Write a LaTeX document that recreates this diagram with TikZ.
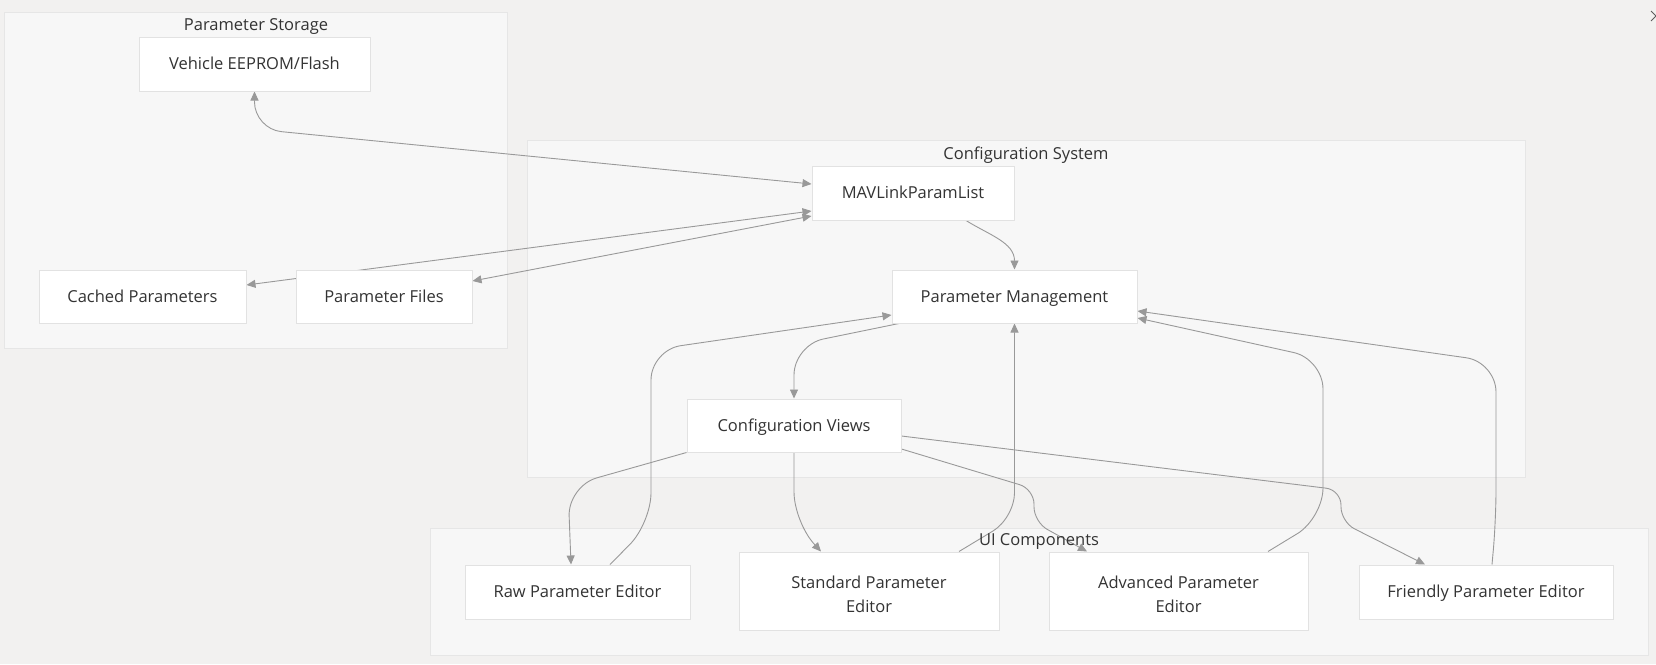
\documentclass[tikz,border=0pt]{standalone}
\usepackage{fontspec}
\setmainfont{Open Sans}
\usetikzlibrary{arrows.meta}
\pgfdeclarelayer{bg}
\pgfdeclarelayer{edges}
\pgfsetlayers{bg,edges,main}
\definecolor{pagebg}{HTML}{F2F1F0}
\definecolor{clusterfill}{HTML}{F7F7F7}
\definecolor{clusterline}{HTML}{E6E6E6}
\definecolor{boxline}{HTML}{E2E2E2}
\definecolor{edgec}{HTML}{999999}
\definecolor{textc}{HTML}{333333}
\begin{document}
\begin{tikzpicture}[x=1pt,y=-1pt,
  box/.style={draw=boxline, fill=white, line width=1pt, text=textc, inner sep=0pt, align=center,
    text height=15pt, text depth=3.2pt, font=\fontsize{16.5}{24}\selectfont},
  twoline/.style={text height=46pt},
  cluster/.style={draw=clusterline, fill=clusterfill, line width=1pt},
  ctitle/.style={text=textc, inner sep=0pt, text height=15pt, text depth=3.2pt,
    font=\fontsize{16.5}{18}\selectfont},
  edge/.style={draw=edgec, line width=0.9pt},
  >={Triangle[length=9pt,width=8pt]}]
\useasboundingbox (0,0) rectangle (1656,664);

% background and clusters
\begin{pgfonlayer}{bg}
\fill[pagebg] (0,0) rectangle (1656,664);
\draw[cluster] (4,12) rectangle (507,348);
\draw[cluster] (527,140) rectangle (1525,477);
\draw[cluster] (430,528) rectangle (1648,655);
\end{pgfonlayer}
\draw[color=textc!80, line width=1pt] (1651,11) -- (1656,16) -- (1651,21);
\node[ctitle] (tstore) at (256,25) {Parameter Storage};
\node[ctitle] (tconf) at (1026,154) {Configuration System};
\node[ctitle] (tui) at (1039,540) {UI Components};

% nodes
\node[box, minimum width=231pt, minimum height=54pt] (veh) at (254.5,64) {Vehicle EEPROM/Flash};
\node[box, minimum width=207pt, minimum height=53pt] (cached) at (142.5,296.5) {Cached Parameters};
\node[box, minimum width=176pt, minimum height=53pt] (files) at (384,296.5) {Parameter Files};
\node[box, minimum width=202pt, minimum height=54pt] (mav) at (913,193) {MAVLinkParamList};
\node[box, minimum width=245pt, minimum height=53pt] (pm) at (1014.5,296.5) {Parameter Management};
\node[box, minimum width=214pt, minimum height=53pt] (cv) at (794,425.5) {Configuration Views};
\node[box, minimum width=225pt, minimum height=54pt] (raw) at (577.5,592) {Raw Parameter Editor};
\node[box, twoline, minimum width=260pt, minimum height=78pt] (std) at (869,591) {Standard Parameter\\Editor};
\node[box, twoline, minimum width=259pt, minimum height=78pt] (adv) at (1178.5,591) {Advanced Parameter\\Editor};
\node[box, minimum width=254pt, minimum height=54pt] (fri) at (1486,592) {Friendly Parameter Editor};

% edges
\begin{pgfonlayer}{edges}
\draw[edge,<->,rounded corners=27pt] (veh.south) -- (254.5,129) -- ([yshift=9pt]mav.west);
\draw[edge,<->] ([yshift=-23pt]mav.west) -- ([yshift=15.5pt]files.east);
\draw[edge,<->] ([yshift=-18pt]mav.west) -- ([yshift=11.5pt]cached.east);
\draw[edge,->] ([xshift=53pt]mav.south) to[out=-32,in=90] (pm.north);
\draw[edge,->,rounded corners=30pt] ([xshift=-115.5pt]pm.south) -- (794,345) -- (cv.north);
\draw[edge,->,rounded corners=30pt] ([xshift=32.5pt]raw.north) -- (651,523) -- (651,350) -- ([yshift=-18.5pt]pm.west);
\draw[edge,->,rounded corners=25pt] ([xshift=90pt]std.north) -- (1014.5,518) -- (pm.south);
\draw[edge,->,rounded corners=30pt] ([xshift=89.5pt]adv.north) -- (1323,518) -- (1323,359) -- ([yshift=-21.5pt]pm.east);
\draw[edge,->,rounded corners=30pt] ([xshift=6pt]fri.north) -- (1496,520) -- (1496,362) -- ([yshift=-14.5pt]pm.east);
\draw[edge,->,rounded corners=30pt] (cv.south west) -- (568,486) -- ([xshift=-6.5pt]raw.north);
\draw[edge,->,rounded corners=30pt] (cv.south) -- (794,522) -- ([xshift=-48pt]std.north);
\draw[edge,->,rounded corners=15pt] ([yshift=-23.5pt]cv.east) -- (1034,489) -- (1034,522) -- ([xshift=-91.5pt]adv.north);
\draw[edge,->,rounded corners=15pt] ([yshift=-10.5pt]cv.east) -- (1341,490) -- (1341,522) -- ([xshift=-61pt]fri.north);
\end{pgfonlayer}
\end{tikzpicture}
\end{document}
